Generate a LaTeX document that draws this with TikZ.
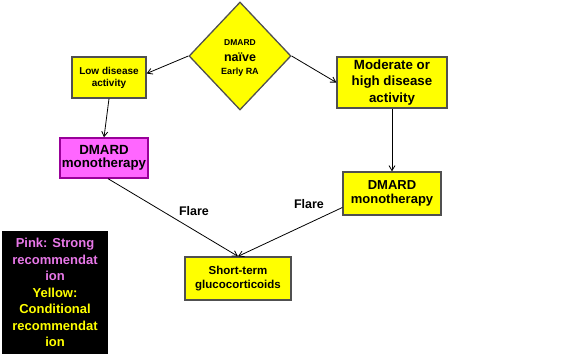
\documentclass[tikz,border=0pt]{standalone}
\usepackage{fontspec}
\setmainfont{Liberation Sans}
\usetikzlibrary{shapes.geometric,arrows.meta}
\definecolor{ylw}{RGB}{255,255,0}
\definecolor{pnk}{RGB}{255,102,255}
\definecolor{pnkbd}{RGB}{153,0,153}
\definecolor{pnktxt}{RGB}{232,120,232}
\definecolor{bd}{RGB}{80,80,80}
\tikzset{
  ybox/.style={draw=bd, line width=1.3pt, fill=ylw, inner sep=0pt, align=center},
  pbox/.style={draw=pnkbd, line width=1.3pt, fill=pnk, inner sep=0pt, align=center},
  conn/.style={-{Straight Barb[length=5pt,width=6pt]}, line width=0.8pt},
  lbl/.style={font=\bfseries\fontsize{12.5}{14}\selectfont, inner sep=0pt}
}
\begin{document}
\begin{tikzpicture}[x=1pt,y=-1pt]
\useasboundingbox (0,0) rectangle (578,356);
\node[diamond, draw=bd, line width=1.3pt, fill=ylw, minimum width=102pt, minimum height=108pt, inner sep=0pt] (dia) at (240,56) {};
\node[inner sep=0pt, align=center, font=\bfseries\fontsize{9}{10}\selectfont] (diatext) at ([yshift=-2.5pt]dia.center)
  {{\fontsize{8.5}{10}\selectfont DMARD}\\[6pt]{\fontsize{12.5}{13}\selectfont naïve}\\[3pt]{\fontsize{9}{10}\selectfont Early RA}};
\node[ybox, minimum width=74pt, minimum height=41pt, font=\bfseries\fontsize{10}{12}\selectfont] (low) at (109,77.5)
  {Low disease\\activity};
\node[ybox, minimum width=110pt, minimum height=51pt, font=\bfseries\fontsize{13.3}{16.5}\selectfont] (mod) at (392,82.5)
  {Moderate or\\high disease\\activity};
\node[pbox, minimum width=88pt, minimum height=40pt, font=\bfseries\fontsize{13.3}{12.5}\selectfont] (pink) at (104,158)
  {DMARD\\monotherapy};
\node[ybox, minimum width=98pt, minimum height=43pt, font=\bfseries\fontsize{13}{14.5}\selectfont] (mono) at (392,193.5)
  {DMARD\\monotherapy};
\node[ybox, minimum width=106pt, minimum height=43pt, font=\bfseries\fontsize{11.5}{13.5}\selectfont] (short) at (238,278.5)
  {Short-term\\glucocorticoids};
\node[fill=black, minimum width=106pt, minimum height=123pt, inner sep=0pt, align=center,
  font=\bfseries\fontsize{13}{16.5}\selectfont] (leg) at (55,292.5)
  {\textcolor{pnktxt}{Pink: Strong}\\\textcolor{pnktxt}{recommendat}\\\textcolor{pnktxt}{ion}\\\textcolor{ylw}{Yellow:}\\\textcolor{ylw}{Conditional}\\\textcolor{ylw}{recommendat}\\\textcolor{ylw}{ion}};
\node[lbl] (f1) at (194,211) {Flare};
\node[lbl] (f2) at (309,204) {Flare};
\draw[conn] (dia.west) -- ([yshift=4pt]low.east);
\draw[conn] (dia.east) -- (mod.west);
\draw[conn] (low.south) -- (pink.north);
\draw[conn] (mod.south) -- (mono.north);
\draw[conn] ([xshift=4pt]pink.south) -- (short.north);
\draw[conn] ([yshift=-14pt]mono.west) -- (short.north);
\end{tikzpicture}
\end{document}
